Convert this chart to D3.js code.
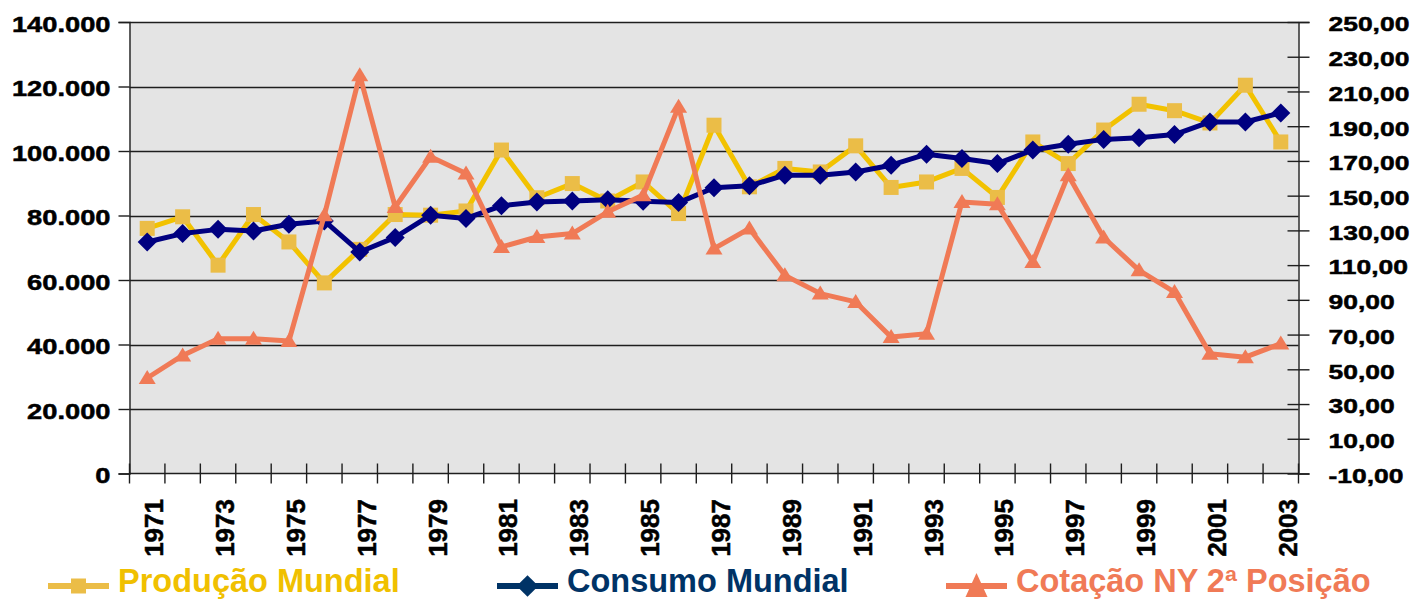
<!DOCTYPE html>
<html>
<head>
<meta charset="utf-8">
<script src="https://cdn.jsdelivr.net/npm/d3@7"></script>
<style>
  body { margin: 0; background: #fff; }
  svg text { font-family: "Liberation Sans", Arial, sans-serif; font-weight: bold; }
</style>
</head>
<body>
<div id="vis"></div>
<script>
// DATA ---------------------------------------------------------------
const years = [1971,1972,1973,1974,1975,1976,1977,1978,1979,1980,1981,1982,1983,1984,1985,1986,
  1987,1988,1989,1990,1991,1992,1993,1994,1995,1996,1997,1998,1999,2000,2001,2002,2003]

const producao = [76000,79600,64600,80300,71800,59100,69500,80300,80100,81400,100300,85500,89900,84500,
  90400,80600,108000,88900,94600,93500,101600,88700,90400,94600,85600,102800,96100,106500,114500,
  112500,108700,120400,102800]

const consumo = [71800,74400,75700,75200,77300,78300,68700,73200,80100,79100,83000,84200,84500,84900,
  84400,84000,88600,89200,92500,92500,93500,95600,99000,97700,96100,100300,102100,103600,104100,
  105100,109000,109000,111800]

const cotacao = [45,58,67.6,67.6,66.3,138.7,219.4,143.5,172.4,162.8,120.5,126.2,128.2,140.7,150.3,
  201.2,119.5,131.1,104.1,93.6,88.8,68.6,70.5,146.4,145.1,111.8,161.8,125.9,107,94.5,59,57,64.8]

const leftTicks  = [0,20000,40000,60000,80000,100000,120000,140000]
const rightTicks = [-10,10,30,50,70,90,110,130,150,170,190,210,230,250]

const seriesNames = ["Produção Mundial", "Consumo Mundial", "Cotação NY 2ª Posição"]

// SETTINGS -----------------------------------------------------------
const W = 1418, H = 600
const plot = { left: 129.5, right: 1298.5, top: 22, bottom: 473.5 }
const colors = {
  prodLine: "#f2c200", prodMark: "#ebbd47", prodText: "#f0c000",
  consLine: "#000080", consLegend: "#003366",
  cotLine: "#f07a56"
}

const loc = d3.formatLocale({ decimal: ",", thousands: ".", grouping: [3], currency: ["", ""], minus: "-" })
const fmtLeft = loc.format(",d")
const fmtRight = loc.format(",.2f")

const svg = d3.select("#vis").append("svg").attr("width", W).attr("height", H)

// scales
const x = d3.scaleBand().domain(years).range([plot.left, plot.right]).padding(0)
const yL = d3.scaleLinear().domain([0, 140000]).range([plot.bottom, plot.top])
const yR = d3.scaleLinear().domain([-10, 250]).range([plot.bottom, plot.top])
const cx = d => x(d) + x.bandwidth() / 2

// background
svg.append("rect")
  .attr("x", plot.left).attr("y", plot.top)
  .attr("width", plot.right - plot.left).attr("height", plot.bottom - plot.top)
  .attr("fill", "#e4e4e4")

// gridlines
svg.append("g").selectAll("line").data(leftTicks.filter(d => d > 0)).join("line")
  .attr("x1", plot.left).attr("x2", plot.right)
  .attr("y1", d => Math.round(yL(d)) + 0.5).attr("y2", d => Math.round(yL(d)) + 0.5)
  .attr("stroke", "#1e1e1e").attr("stroke-width", 1.4)

// heavier look for axis labels
const heavy = sel => sel.attr("stroke", "#000").attr("stroke-width", 0.5)

// left axis
const gL = svg.append("g").attr("transform", `translate(${plot.left},0)`)
  .call(d3.axisLeft(yL).tickValues(leftTicks).tickSize(11).tickPadding(8).tickFormat(fmtLeft))
gL.select(".domain").attr("stroke", "#1e1e1e").attr("stroke-width", 1.4)
gL.selectAll(".tick line").attr("stroke", "#1e1e1e").attr("stroke-width", 1.4)
gL.selectAll(".tick text")
  .attr("font-size", 22).attr("fill", "#000").attr("dy", "0.42em")
  .attr("transform", "translate(-19,0) scale(1.24,1) translate(19,0)")
  .call(heavy)

// right axis
const gR = svg.append("g").attr("transform", `translate(${plot.right},0)`)
  .call(d3.axisRight(yR).tickValues(rightTicks).tickSize(11).tickPadding(19).tickFormat(fmtRight))
gR.select(".domain").attr("stroke", "#1e1e1e").attr("stroke-width", 1.4)
gR.selectAll(".tick line").attr("x1", -11).attr("stroke", "#1e1e1e").attr("stroke-width", 1.4)
gR.selectAll(".tick text")
  .attr("font-size", 21).attr("fill", "#000").attr("dy", "0.42em")
  .attr("transform", "translate(30,0) scale(1.26,1) translate(-30,0)")
  .call(heavy)

// bottom axis: line + ticks at band edges
const gB = svg.append("g")
gB.append("line")
  .attr("x1", plot.left).attr("x2", plot.right)
  .attr("y1", plot.bottom).attr("y2", plot.bottom)
  .attr("stroke", "#1e1e1e").attr("stroke-width", 1.4)
gB.selectAll("line.tk").data(years.concat([null])).join("line").attr("class", "tk")
  .attr("x1", (d, i) => i < years.length ? x(d) : plot.right)
  .attr("x2", (d, i) => i < years.length ? x(d) : plot.right)
  .attr("y1", plot.bottom - 10).attr("y2", plot.bottom + 10)
  .attr("stroke", "#1e1e1e").attr("stroke-width", 1.4)
gB.selectAll("text").data(years.filter(d => d % 2 === 1)).join("text")
  .attr("transform", d => `translate(${cx(d) + 16},499) rotate(-90)`)
  .attr("text-anchor", "end")
  .attr("font-size", 26).attr("fill", "#000")
  .text(d => d)
  .call(heavy)

// series
const lineL = d3.line().x((d, i) => cx(years[i])).y(d => yL(d))
const lineR = d3.line().x((d, i) => cx(years[i])).y(d => yR(d))

// Produção
svg.append("path").datum(producao).attr("d", lineL)
  .attr("fill", "none").attr("stroke", colors.prodLine).attr("stroke-width", 5).attr("stroke-linejoin", "round")
svg.append("g").selectAll("rect").data(producao).join("rect")
  .attr("x", (d, i) => cx(years[i]) - 7.5).attr("y", d => yL(d) - 7.5)
  .attr("width", 15).attr("height", 15).attr("fill", colors.prodMark)

// Consumo
const diamond = d3.symbol().type(d3.symbolDiamond2).size(230)
svg.append("path").datum(consumo).attr("d", lineL)
  .attr("fill", "none").attr("stroke", colors.consLine).attr("stroke-width", 5).attr("stroke-linejoin", "round")
svg.append("g").selectAll("path").data(consumo).join("path")
  .attr("d", diamond)
  .attr("transform", (d, i) => `translate(${cx(years[i])},${yL(d)})`)
  .attr("fill", colors.consLine)

// Cotação
const tri = "M0,-8L8.5,6L-8.5,6Z"
svg.append("path").datum(cotacao).attr("d", lineR)
  .attr("fill", "none").attr("stroke", colors.cotLine).attr("stroke-width", 5).attr("stroke-linejoin", "round")
svg.append("g").selectAll("path").data(cotacao).join("path")
  .attr("d", tri)
  .attr("transform", (d, i) => `translate(${cx(years[i])},${yR(d)})`)
  .attr("fill", colors.cotLine)

// LEGEND -------------------------------------------------------------
const legend = [
  { name: seriesNames[0], x: 48, line: colors.prodMark, text: colors.prodText, mark: "sq" },
  { name: seriesNames[1], x: 497, line: colors.consLegend, text: colors.consLegend, mark: "dia" },
  { name: seriesNames[2], x: 946, line: colors.cotLine, text: colors.cotLine, mark: "tri" }
]
const lg = svg.append("g").selectAll("g").data(legend).join("g")
  .attr("transform", d => `translate(${d.x},586)`)
lg.append("line").attr("x1", 0).attr("x2", 61).attr("y1", 0).attr("y2", 0)
  .attr("stroke", d => d.line).attr("stroke-width", 6)
lg.append("path")
  .attr("d", d => d.mark === "sq" ? "M-7.5,-7.5h15v15h-15Z"
    : d.mark === "dia" ? d3.symbol().type(d3.symbolDiamond2).size(300)()
    : "M0,-13L11,11L-11,11Z")
  .attr("transform", "translate(30.5,0)")
  .attr("fill", d => d.line)
lg.append("text")
  .attr("x", 70).attr("y", 6)
  .attr("font-size", 32.5).attr("fill", d => d.text)
  .text(d => d.name)
</script>
</body>
</html>
